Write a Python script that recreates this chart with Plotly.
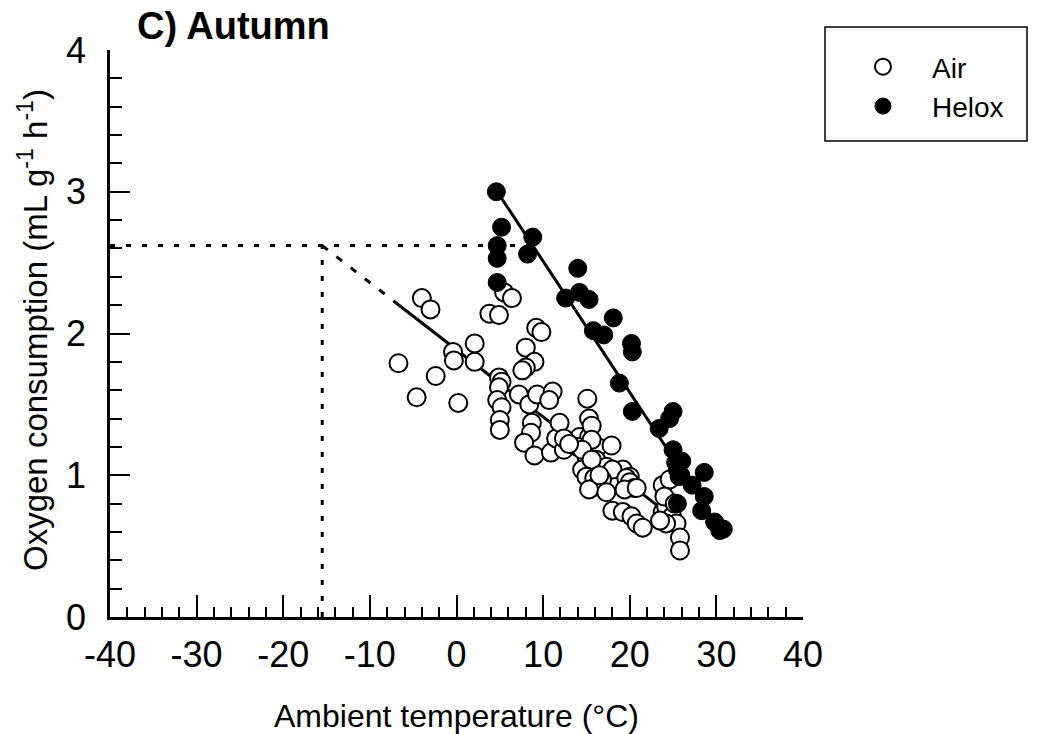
import plotly.graph_objects as go

# ---- data ----
air_x = [-6.7, -4.6, -4.0, -3.0, -2.4, -0.4, -0.3, 0.2, 2.1, 2.1, 3.8, 4.9, 5.5, 6.4,
         4.9, 5.2, 4.9, 4.7, 5.2, 5.0, 5.0, 7.2, 8.4, 9.3, 11.1, 10.7, 8.0, 9.2, 9.8,
         9.0, 8.0, 7.6, 8.7, 8.6, 7.8, 9.0, 10.9, 11.5, 12.4, 11.9, 14.2, 15.3, 14.0,
         15.7, 16.3, 17.9, 15.0, 16.1, 14.5, 17.3, 19.2, 20.0, 15.1, 15.3, 15.6, 12.4,
         15.6, 14.5, 15.6, 18.0, 15.0, 15.9, 19.6, 16.8, 20.0, 20.5, 16.1, 15.3, 17.3,
         19.4, 20.8, 18.0, 19.2, 20.2, 20.8, 21.5, 23.8, 24.6, 23.8, 24.2, 24.9, 25.4,
         24.2, 25.8, 25.8, 23.5, 24.0, 25.2, 13.0, 16.5]
air_y = [1.79, 1.55, 2.25, 2.17, 1.70, 1.87, 1.81, 1.51, 1.93, 1.80, 2.14, 2.13, 2.29, 2.25,
         1.69, 1.66, 1.62, 1.53, 1.48, 1.39, 1.32, 1.57, 1.50, 1.57, 1.59, 1.53, 1.90, 2.04, 2.01,
         1.80, 1.76, 1.74, 1.37, 1.30, 1.23, 1.14, 1.16, 1.26, 1.18, 1.37, 1.27, 1.27, 1.20,
         1.19, 1.20, 1.21, 1.13, 1.11, 1.04, 1.06, 1.04, 0.99, 1.54, 1.40, 1.35, 1.26,
         1.25, 1.18, 1.11, 1.04, 0.99, 0.98, 0.98, 0.97, 0.95, 0.91, 0.92, 0.90, 0.88,
         0.90, 0.91, 0.75, 0.74, 0.71, 0.66, 0.63, 0.93, 0.97, 0.74, 0.78, 0.71, 0.66,
         0.66, 0.56, 0.47, 0.68, 0.85, 0.80, 1.22, 1.00]

helox_x = [4.6, 5.2, 4.7, 4.7, 4.7, 8.8, 8.2, 12.6, 14.0, 14.2, 15.3, 15.8, 17.0, 18.1,
           18.8, 20.2, 20.3, 20.3, 23.4, 24.6, 25.0, 25.0, 25.3, 25.5, 25.7, 25.5, 27.2,
           28.6, 28.6, 28.3, 29.8, 30.4, 30.8, 26.0, 25.9]
helox_y = [3.00, 2.75, 2.62, 2.53, 2.36, 2.68, 2.56, 2.25, 2.46, 2.29, 2.24, 2.02, 1.99, 2.11,
           1.65, 1.93, 1.87, 1.45, 1.33, 1.40, 1.45, 1.18, 1.09, 1.04, 0.99, 0.80, 0.93,
           1.02, 0.85, 0.75, 0.67, 0.61, 0.62, 1.10, 1.00]

x_tick_vals = [-40, -30, -20, -10, 0, 10, 20, 30, 40]
x_tick_text = ["-40", "-30", "-20", "-10", "0", "10", "20", "30", "40"]
y_tick_vals = [0, 1, 2, 3, 4]
y_tick_text = ["0", "1", "2", "3", "4"]

# fitted relationships
lct = -15.5          # lower critical temperature (deg C)
vo2_max = 2.62       # maximal oxygen consumption
air_slope = -0.0474  # air regression: y = vo2_max + slope*(x - lct)
air_fit_x = [-7.0, 23.5]
helox_x0, helox_y0, helox_slope = 4.7, 3.0, -0.0925
helox_fit_x = [4.7, 30.8]

def air_line(x):
    return vo2_max + air_slope * (x - lct)

def helox_line(x):
    return helox_y0 + helox_slope * (x - helox_x0)

helox_cross = helox_x0 + (vo2_max - helox_y0) / helox_slope

FONT = "Liberation Sans, Arial, Helvetica, sans-serif"

fig = go.Figure()

# dotted guides
fig.add_trace(go.Scatter(x=[-40, helox_cross], y=[vo2_max, vo2_max], mode="lines",
                         line=dict(color="black", width=3, dash="5px,11px"),
                         showlegend=False, hoverinfo="skip"))
fig.add_trace(go.Scatter(x=[lct, lct], y=[0, vo2_max], mode="lines",
                         line=dict(color="black", width=3, dash="5px,11px"),
                         showlegend=False, hoverinfo="skip"))
# extrapolation of air line
fig.add_trace(go.Scatter(x=[lct, air_fit_x[0]], y=[air_line(lct), air_line(air_fit_x[0])],
                         mode="lines", line=dict(color="black", width=3, dash="7px,11px"),
                         showlegend=False, hoverinfo="skip"))
# regression lines
fig.add_trace(go.Scatter(x=air_fit_x, y=[air_line(v) for v in air_fit_x], mode="lines",
                         line=dict(color="black", width=3), showlegend=False, hoverinfo="skip"))
fig.add_trace(go.Scatter(x=helox_fit_x, y=[helox_line(v) for v in helox_fit_x], mode="lines",
                         line=dict(color="black", width=3), showlegend=False, hoverinfo="skip"))

fig.add_trace(go.Scatter(x=air_x, y=air_y, mode="markers", name="Air",
                         marker=dict(symbol="circle", size=18, color="white",
                                     line=dict(color="black", width=2))))
fig.add_trace(go.Scatter(x=helox_x, y=helox_y, mode="markers", name="Helox",
                         marker=dict(symbol="circle", size=18, color="black",
                                     line=dict(color="black", width=1))))

L, R, T, B = 110, 237, 50, 117
W, H = 1040, 734
pw, ph = W - L - R, H - T - B

def px_x(p):
    return (p - L) / pw

def px_y(p):
    return (H - B - p) / ph

fig.update_layout(
    width=W, height=H,
    margin=dict(l=L, r=R, t=T, b=B, pad=0),
    paper_bgcolor="white", plot_bgcolor="white",
    font=dict(family=FONT, size=36, color="black"),
    showlegend=True,
    legend=dict(x=px_x(834), y=px_y(42), xanchor="left", yanchor="top",
                bgcolor="rgba(0,0,0,0)", borderwidth=0,
                font=dict(family=FONT, size=28, color="black"),
                tracegroupgap=0, itemwidth=88),
    xaxis=dict(range=[-40, 40], showgrid=False, zeroline=False,
               showline=True, linecolor="black", linewidth=2.5,
               ticks="inside", ticklen=22, tickwidth=2, tickcolor="black",
               tickmode="array", tickvals=x_tick_vals, ticktext=x_tick_text,
               tickfont=dict(family=FONT, size=36), ticklabelstandoff=4,
               minor=dict(ticks="inside", ticklen=10, tickwidth=2, tickcolor="black",
                          tick0=-40, dtick=2)),
    yaxis=dict(range=[0, 4], showgrid=False, zeroline=False,
               showline=True, linecolor="black", linewidth=2.5,
               ticks="inside", ticklen=20, tickwidth=2, tickcolor="black",
               tickmode="array", tickvals=y_tick_vals, ticktext=y_tick_text,
               tickfont=dict(family=FONT, size=36), ticklabelstandoff=14,
               minor=dict(ticks="inside", ticklen=12, tickwidth=2, tickcolor="black",
                          tick0=0, dtick=0.2)),
    shapes=[dict(type="rect", xref="paper", yref="paper",
                 x0=px_x(825), x1=px_x(1027), y0=px_y(141), y1=px_y(27),
                 line=dict(color="black", width=1.5), fillcolor="rgba(0,0,0,0)")],
    annotations=[
        dict(text="<b>C) Autumn</b>", xref="paper", yref="paper", x=px_x(135), y=px_y(26),
             xanchor="left", yanchor="middle", showarrow=False,
             font=dict(family=FONT, size=38)),
        dict(text="Ambient temperature (°C)", xref="paper", yref="paper", x=px_x(457),
             y=px_y(716), xanchor="center", yanchor="middle", showarrow=False,
             font=dict(family=FONT, size=32)),
        dict(text="Oxygen consumption (mL g<sup>-1</sup> h<sup>-1</sup>)", xref="paper",
             yref="paper", x=px_x(33), y=px_y(330), xanchor="center", yanchor="middle",
             textangle=-90, showarrow=False, font=dict(family=FONT, size=33)),
    ],
)

fig.write_html("out.html")
